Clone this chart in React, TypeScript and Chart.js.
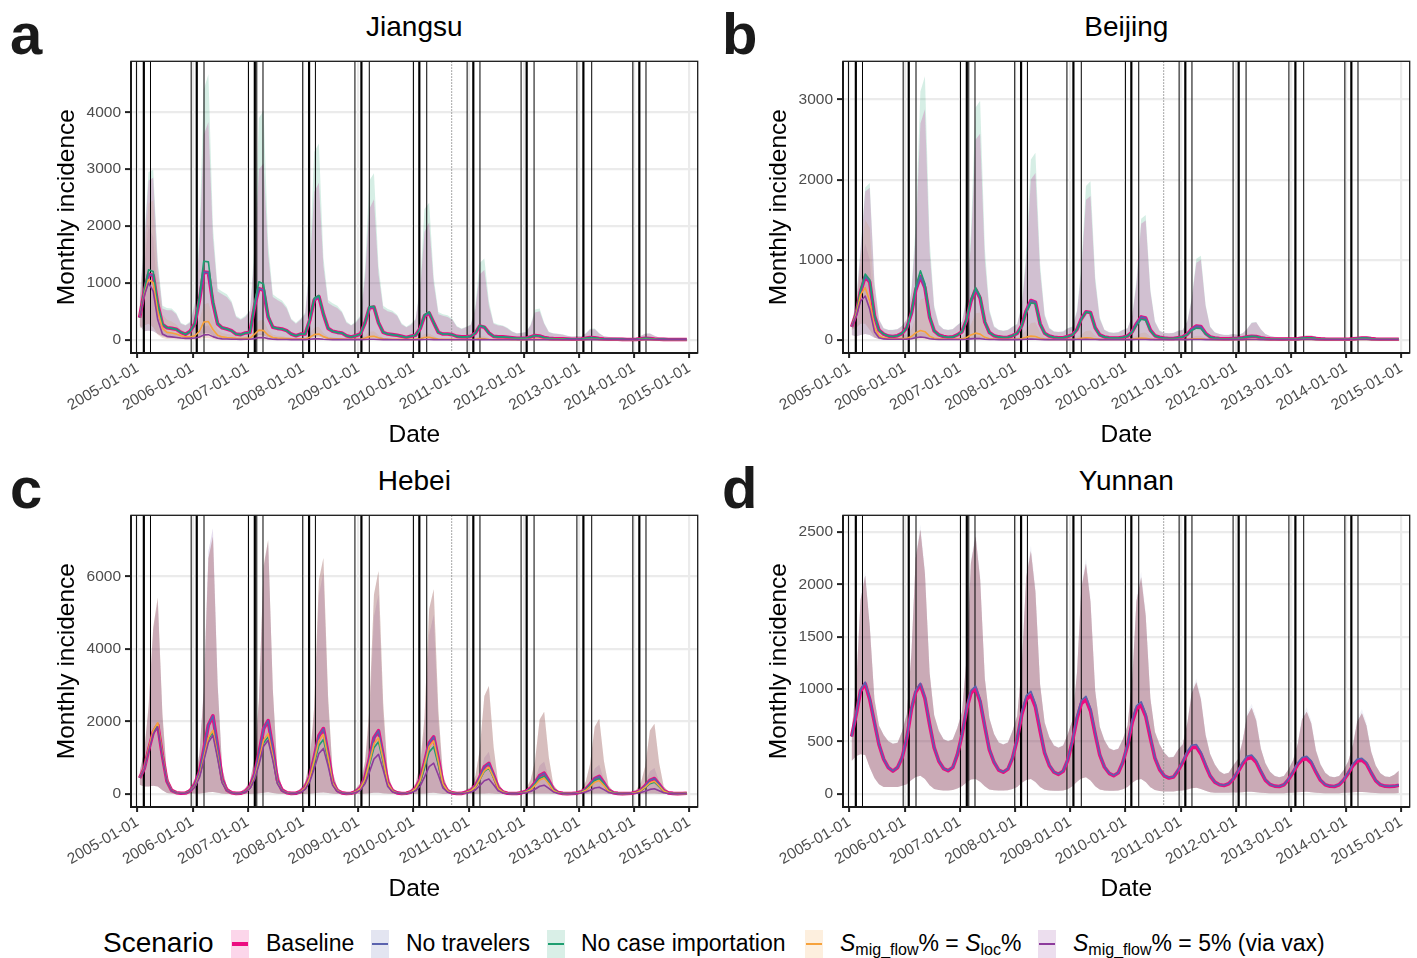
import React, { useEffect, useRef } from 'react';
import { Chart, registerables } from 'chart.js';

Chart.register(...registerables);

const FONT = '"Liberation Sans", Arial, Helvetica, sans-serif';

// ---------- axis / date data ----------
const START_YEAR = 2005;
const N_MONTHS = 120;
const X_TICK_LABELS = ['2005-01-01', '2006-01-01', '2007-01-01', '2008-01-01', '2009-01-01', '2010-01-01', '2011-01-01', '2012-01-01', '2013-01-01', '2014-01-01', '2015-01-01'];
const X_MIN_DATE = '2004-11-19';
const X_MAX_DATE = '2015-02-25';

const THIN_LINES = ['2004-12-25', '2005-03-28', '2005-12-22', '2006-03-17', '2007-01-05', '2007-03-01', '2007-04-11', '2007-12-30', '2008-03-23', '2008-12-10', '2009-03-15', '2010-01-01', '2010-03-30', '2010-12-22', '2011-03-17', '2011-12-14', '2012-03-09', '2012-12-18', '2013-03-26', '2013-12-23', '2014-03-20'];
const THICK_LINES = ['2005-02-12', '2006-01-28', '2007-02-16', '2008-02-10', '2009-01-22', '2010-02-09', '2011-02-01', '2012-01-20', '2013-01-30', '2014-02-04'];
const DOTTED_LINE = '2010-09-11';

const SCENARIOS = ['Baseline', 'No travelers', 'No case importation', 'S_mig_flow% = S_loc%', 'S_mig_flow% = 5% (via vax)'];
const COLORS = ['#EC0C80', '#5A62AE', '#1E9E70', '#F6A23C', '#8D3B9C'];
const FILL_ALPHAS = [0.16, 0.08, 0.18, 0.17, 0.12];

// ---------- Panel a: Jiangsu ----------
const aBase = [
  390, 850, 1150, 1130, 620, 270, 210, 200, 185, 130, 95, 150,
  280, 700, 1190, 1180, 650, 280, 210, 190, 160, 100, 90, 120,
  130, 600, 900, 870, 400, 220, 200, 190, 160, 100, 70, 100,
  100, 350, 700, 760, 450, 200, 150, 130, 120, 70, 50, 70,
  100, 300, 560, 575, 300, 130, 100, 90, 80, 60, 40, 60,
  80, 200, 420, 470, 300, 130, 100, 100, 90, 60, 50, 50,
  60, 120, 240, 220, 120, 60, 50, 50, 45, 35, 25, 25,
  25, 50, 75, 65, 40, 25, 20, 18, 15, 12, 10, 10,
  12, 25, 38, 35, 22, 12, 10, 10, 8, 6, 5, 5,
  6, 15, 25, 22, 12, 8, 6, 5, 5, 4, 4, 4,
];
const aNoImp = [
  390, 870, 1230, 1200, 640, 280, 215, 200, 185, 130, 95, 150,
  280, 760, 1380, 1370, 690, 290, 210, 190, 160, 100, 90, 120,
  130, 650, 1020, 980, 430, 220, 200, 190, 160, 100, 70, 100,
  100, 360, 730, 780, 460, 200, 150, 130, 120, 70, 50, 70,
  100, 300, 580, 590, 300, 130, 100, 90, 80, 60, 40, 60,
  80, 200, 440, 490, 300, 130, 100, 100, 90, 60, 50, 50,
  60, 120, 250, 230, 120, 60, 50, 50, 45, 35, 25, 25,
  25, 50, 75, 65, 40, 25, 20, 18, 15, 12, 10, 10,
  12, 25, 38, 35, 22, 12, 10, 10, 8, 6, 5, 5,
  6, 15, 25, 22, 12, 8, 6, 5, 5, 4, 4, 4,
];
const aSloc = [
  390, 800, 1060, 1000, 500, 200, 130, 120, 100, 70, 50, 50,
  70, 150, 310, 320, 180, 80, 50, 40, 35, 25, 20, 25,
  30, 100, 170, 160, 80, 40, 30, 25, 20, 15, 12, 15,
  15, 45, 90, 100, 55, 25, 18, 15, 12, 10, 8, 10,
  10, 30, 55, 60, 35, 15, 10, 10, 8, 6, 5, 6,
  6, 18, 40, 45, 28, 12, 8, 8, 7, 5, 4, 5,
  5, 10, 20, 18, 10, 5, 4, 4, 4, 3, 2, 2,
  2, 5, 8, 7, 4, 2, 2, 2, 2, 1, 1, 1,
  1, 3, 4, 4, 2, 1, 1, 1, 1, 1, 1, 1,
  1, 2, 3, 3, 2, 1, 1, 1, 1, 1, 1, 1,
];
const aVax = [
  390, 780, 1000, 850, 350, 100, 60, 50, 40, 30, 25, 25,
  30, 50, 85, 90, 55, 25, 15, 12, 10, 8, 6, 8,
  8, 20, 40, 38, 20, 10, 6, 5, 4, 3, 3, 3,
  3, 8, 15, 15, 8, 4, 3, 2, 2, 2, 2, 2,
  2, 4, 8, 8, 4, 2, 2, 1, 1, 1, 1, 1,
  1, 3, 5, 5, 3, 1, 1, 1, 1, 1, 1, 1,
  1, 1, 2, 2, 1, 1, 1, 1, 1, 1, 1, 1,
  1, 1, 1, 1, 1, 1, 1, 1, 1, 1, 1, 1,
  1, 1, 1, 1, 1, 1, 1, 1, 1, 1, 1, 1,
  1, 1, 1, 1, 1, 1, 1, 1, 1, 1, 1, 1,
];
const aHi = [
  700, 1700, 2800, 2850, 1300, 550, 520, 520, 450, 280, 250, 300,
  600, 1700, 3600, 3830, 1800, 850, 800, 750, 650, 400, 350, 400,
  500, 1500, 3000, 3100, 1500, 750, 700, 650, 550, 350, 280, 350,
  450, 1300, 2600, 2760, 1300, 650, 600, 560, 480, 300, 250, 300,
  400, 1100, 2300, 2470, 1150, 550, 500, 480, 420, 270, 220, 260,
  350, 900, 1900, 2060, 1000, 450, 420, 400, 350, 230, 190, 220,
  260, 550, 1150, 1225, 600, 280, 250, 240, 200, 140, 110, 120,
  130, 250, 480, 500, 280, 130, 110, 100, 90, 70, 55, 60,
  60, 110, 180, 185, 110, 60, 50, 45, 40, 35, 30, 30,
  35, 70, 105, 110, 70, 40, 35, 30, 28, 25, 22, 22,
];
const aHiNoImp = [
  720, 1800, 2950, 2990, 1400, 600, 560, 550, 470, 300, 260, 320,
  650, 1900, 4400, 4670, 2000, 900, 850, 800, 680, 420, 370, 420,
  520, 1700, 3900, 4030, 1700, 800, 740, 690, 580, 370, 300, 370,
  480, 1450, 3300, 3450, 1450, 700, 640, 600, 500, 320, 260, 320,
  420, 1250, 2800, 2930, 1300, 600, 540, 510, 440, 290, 230, 280,
  370, 1000, 2300, 2410, 1100, 490, 450, 430, 370, 240, 200, 230,
  270, 620, 1350, 1430, 680, 300, 270, 250, 210, 150, 115, 125,
  135, 270, 530, 550, 300, 140, 115, 105, 95, 72, 56, 62,
  62, 115, 195, 200, 115, 62, 52, 46, 41, 36, 30, 30,
  36, 72, 108, 112, 72, 41, 36, 31, 28, 25, 22, 22,
];
const aLo = [
  250, 150, 160, 150, 100, 60, 40, 35, 30, 20, 15, 18,
  25, 60, 120, 120, 70, 30, 20, 18, 15, 10, 9, 12,
  12, 40, 80, 75, 40, 20, 18, 15, 12, 8, 6, 8,
  8, 25, 50, 55, 30, 15, 10, 9, 8, 6, 4, 5,
  6, 18, 35, 35, 18, 8, 6, 5, 5, 4, 3, 3,
  3, 10, 25, 25, 15, 6, 5, 5, 4, 3, 2, 2,
  2, 5, 10, 10, 5, 2, 2, 2, 2, 1, 1, 1,
  1, 2, 3, 3, 2, 1, 1, 1, 1, 0, 0, 0,
  0, 0, 0, 0, 0, 0, 0, 0, 0, 0, 0, 0,
  0, 0, 0, 0, 0, 0, 0, 0, 0, 0, 0, 0,
];
const aHiSloc = [
  600, 1500, 2400, 2450, 1100, 450, 350, 320, 270, 180, 140, 150,
  180, 350, 620, 650, 380, 180, 120, 100, 90, 65, 55, 60,
  70, 200, 340, 350, 170, 90, 70, 60, 50, 38, 30, 35,
  35, 110, 210, 230, 120, 55, 42, 36, 30, 24, 20, 24,
  24, 70, 140, 150, 80, 36, 26, 24, 20, 15, 12, 14,
  15, 45, 100, 110, 65, 28, 20, 19, 17, 12, 10, 11,
  11, 25, 55, 60, 28, 14, 10, 10, 9, 7, 5, 5,
  5, 12, 24, 25, 13, 6, 5, 5, 4, 3, 3, 3,
  3, 6, 10, 10, 6, 3, 3, 3, 2, 2, 2, 2,
  2, 4, 8, 8, 5, 2, 2, 2, 2, 2, 2, 2,
];
const aHiVax = [
  550, 1300, 2000, 1800, 700, 250, 150, 120, 100, 70, 55, 55,
  60, 120, 230, 250, 140, 60, 40, 30, 25, 20, 15, 18,
  20, 55, 110, 115, 55, 25, 16, 13, 11, 8, 7, 8,
  8, 22, 45, 45, 22, 10, 8, 6, 5, 5, 4, 4,
  5, 12, 24, 24, 12, 6, 5, 3, 3, 3, 3, 3,
  3, 8, 15, 15, 8, 3, 3, 3, 3, 3, 3, 3,
  3, 3, 5, 5, 3, 3, 3, 3, 3, 3, 3, 3,
  2, 2, 3, 3, 2, 2, 2, 2, 2, 2, 2, 2,
  2, 2, 2, 2, 2, 2, 2, 2, 2, 2, 2, 2,
  2, 2, 2, 2, 2, 2, 2, 2, 2, 2, 2, 2,
];
const aLoSmall = [
  200, 250, 280, 220, 90, 30, 15, 12, 10, 8, 6, 6,
  6, 12, 25, 25, 14, 6, 4, 3, 3, 2, 2, 2,
  2, 5, 10, 10, 5, 2, 2, 1, 1, 1, 1, 1,
  0, 0, 0, 0, 0, 0, 0, 0, 0, 0, 0, 0,
  0, 0, 0, 0, 0, 0, 0, 0, 0, 0, 0, 0,
  0, 0, 0, 0, 0, 0, 0, 0, 0, 0, 0, 0,
  0, 0, 0, 0, 0, 0, 0, 0, 0, 0, 0, 0,
  0, 0, 0, 0, 0, 0, 0, 0, 0, 0, 0, 0,
  0, 0, 0, 0, 0, 0, 0, 0, 0, 0, 0, 0,
  0, 0, 0, 0, 0, 0, 0, 0, 0, 0, 0, 0,
];

// ---------- Panel b: Beijing ----------
const bBase = [
  160, 330, 600, 790, 720, 300, 120, 70, 45, 40, 50, 80,
  150, 330, 620, 790, 650, 280, 110, 60, 40, 30, 35, 60,
  100, 250, 480, 630, 520, 220, 90, 50, 35, 28, 30, 50,
  80, 180, 360, 490, 470, 200, 80, 45, 30, 25, 25, 40,
  60, 130, 260, 350, 340, 150, 60, 35, 25, 20, 20, 30,
  45, 100, 200, 285, 270, 120, 50, 30, 20, 15, 15, 25,
  35, 70, 130, 170, 165, 80, 35, 20, 15, 12, 12, 15,
  18, 25, 35, 42, 40, 25, 15, 10, 8, 7, 7, 8,
  8, 12, 18, 25, 25, 16, 10, 7, 6, 5, 5, 6,
  6, 10, 16, 22, 22, 14, 8, 6, 5, 5, 5, 5,
];
const bNoImp = [
  160, 340, 620, 820, 750, 310, 120, 70, 45, 40, 50, 80,
  150, 350, 660, 860, 700, 300, 110, 60, 40, 30, 35, 60,
  100, 260, 500, 650, 540, 230, 90, 50, 35, 28, 30, 50,
  80, 175, 345, 460, 450, 195, 80, 45, 30, 25, 25, 40,
  60, 125, 250, 345, 335, 145, 60, 35, 25, 20, 20, 30,
  45, 95, 180, 255, 245, 110, 48, 30, 20, 15, 15, 25,
  35, 65, 115, 145, 140, 70, 32, 20, 15, 12, 12, 15,
  18, 25, 35, 42, 40, 25, 15, 10, 8, 7, 7, 8,
  8, 12, 18, 25, 25, 16, 10, 7, 6, 5, 5, 6,
  6, 10, 16, 22, 22, 14, 8, 6, 5, 5, 5, 5,
];
const bSloc = [
  160, 320, 560, 650, 480, 150, 50, 25, 15, 12, 12, 15,
  18, 40, 85, 115, 100, 45, 18, 10, 7, 6, 6, 8,
  10, 28, 60, 82, 70, 30, 12, 7, 5, 4, 4, 6,
  6, 15, 32, 45, 40, 18, 7, 4, 3, 3, 3, 4,
  4, 9, 18, 25, 22, 10, 4, 3, 2, 2, 2, 3,
  3, 7, 14, 20, 18, 8, 3, 2, 2, 2, 2, 2,
  2, 4, 8, 12, 10, 5, 2, 1, 1, 1, 1, 1,
  1, 1, 2, 3, 3, 2, 1, 1, 1, 1, 1, 1,
  1, 1, 2, 2, 2, 1, 1, 1, 1, 1, 1, 1,
  1, 1, 2, 2, 2, 1, 1, 1, 1, 1, 1, 1,
];
const bVax = [
  160, 300, 480, 545, 380, 100, 25, 10, 6, 5, 5, 6,
  7, 12, 25, 33, 28, 12, 5, 3, 2, 2, 2, 3,
  3, 6, 11, 15, 13, 6, 3, 2, 1, 1, 1, 1,
  1, 3, 5, 7, 6, 3, 1, 1, 1, 1, 1, 1,
  1, 2, 3, 4, 3, 2, 1, 1, 1, 1, 1, 1,
  1, 1, 2, 2, 2, 1, 1, 1, 1, 1, 1, 1,
  1, 1, 2, 2, 2, 1, 1, 1, 1, 1, 1, 1,
  1, 1, 2, 2, 2, 1, 1, 1, 1, 1, 1, 1,
  1, 1, 2, 2, 2, 1, 1, 1, 1, 1, 1, 1,
  1, 1, 2, 2, 2, 1, 1, 1, 1, 1, 1, 1,
];
const bHi = [
  180, 500, 1100, 1850, 1898, 700, 250, 140, 120, 120, 130, 170,
  250, 600, 1300, 2700, 2880, 1100, 400, 180, 130, 120, 130, 180,
  220, 500, 1200, 2500, 2574, 1000, 350, 160, 120, 110, 120, 160,
  190, 420, 1000, 2000, 2082, 850, 300, 140, 100, 95, 100, 140,
  160, 350, 850, 1750, 1795, 720, 260, 120, 90, 85, 90, 120,
  140, 300, 700, 1450, 1488, 600, 220, 110, 85, 80, 85, 110,
  120, 230, 500, 960, 996, 420, 160, 90, 70, 60, 60, 70,
  60, 80, 130, 210, 217, 130, 70, 45, 35, 30, 30, 35,
  30, 35, 45, 53, 53, 40, 30, 25, 22, 20, 20, 22,
  22, 28, 35, 41, 41, 32, 25, 22, 20, 18, 18, 18,
];
const bHiNoImp = [
  185, 520, 1150, 1900, 1959, 730, 260, 145, 125, 125, 135, 175,
  260, 650, 1450, 3100, 3291, 1250, 430, 190, 135, 125, 135, 185,
  230, 550, 1350, 2900, 2984, 1150, 380, 170, 125, 115, 125, 165,
  200, 450, 1100, 2250, 2336, 950, 320, 150, 105, 100, 105, 145,
  165, 370, 930, 1920, 1980, 790, 280, 125, 95, 90, 95, 125,
  145, 310, 740, 1510, 1557, 630, 230, 115, 88, 82, 88, 115,
  125, 240, 520, 1010, 1050, 440, 165, 92, 72, 62, 62, 72,
  62, 82, 135, 215, 222, 132, 72, 46, 36, 31, 31, 36,
  30, 35, 45, 53, 53, 40, 30, 25, 22, 20, 20, 22,
  22, 28, 35, 41, 41, 32, 25, 22, 20, 18, 18, 18,
];
const bLo = [
  60, 40, 60, 70, 60, 25, 10, 5, 3, 3, 3, 5,
  5, 10, 20, 25, 20, 8, 3, 2, 1, 1, 1, 2,
  2, 6, 12, 15, 12, 5, 2, 1, 1, 1, 1, 1,
  1, 4, 8, 10, 8, 3, 1, 1, 0, 0, 0, 1,
  1, 2, 5, 6, 5, 2, 1, 0, 0, 0, 0, 0,
  0, 1, 3, 4, 3, 1, 0, 0, 0, 0, 0, 0,
  0, 0, 0, 0, 0, 0, 0, 0, 0, 0, 0, 0,
  0, 0, 0, 0, 0, 0, 0, 0, 0, 0, 0, 0,
  0, 0, 0, 0, 0, 0, 0, 0, 0, 0, 0, 0,
  0, 0, 0, 0, 0, 0, 0, 0, 0, 0, 0, 0,
];
const bHiSloc = [
  170, 450, 1000, 1500, 1400, 500, 150, 70, 50, 45, 45, 55,
  65, 130, 280, 500, 525, 220, 80, 40, 30, 25, 25, 35,
  40, 90, 190, 330, 340, 140, 55, 30, 22, 18, 18, 25,
  28, 60, 120, 210, 217, 90, 35, 20, 15, 13, 13, 18,
  18, 35, 65, 110, 115, 50, 20, 12, 10, 8, 8, 12,
  14, 28, 50, 85, 90, 40, 15, 10, 8, 7, 7, 9,
  9, 16, 28, 48, 50, 22, 10, 7, 5, 5, 5, 6,
  5, 7, 10, 14, 15, 9, 6, 4, 4, 3, 3, 4,
  3, 4, 6, 8, 8, 6, 4, 3, 3, 3, 3, 3,
  3, 4, 6, 7, 7, 5, 4, 3, 3, 3, 3, 3,
];
const bHiVax = [
  165, 420, 900, 1200, 1000, 300, 70, 25, 15, 12, 12, 14,
  15, 30, 60, 90, 85, 35, 12, 7, 5, 5, 5, 7,
  8, 15, 30, 42, 40, 18, 8, 5, 4, 3, 3, 4,
  5, 8, 15, 20, 19, 9, 4, 3, 2, 2, 2, 3,
  3, 5, 9, 12, 11, 6, 3, 2, 2, 2, 2, 2,
  2, 4, 7, 9, 8, 4, 2, 2, 2, 2, 2, 2,
  2, 3, 5, 6, 6, 3, 2, 2, 2, 2, 2, 2,
  2, 2, 3, 3, 3, 2, 2, 2, 2, 2, 2, 2,
  2, 2, 3, 3, 3, 2, 2, 2, 2, 2, 2, 2,
  2, 2, 3, 3, 3, 2, 2, 2, 2, 2, 2, 2,
];
const bLoSmall = [
  120, 150, 200, 200, 120, 30, 6, 2, 1, 1, 1, 1,
  1, 2, 4, 5, 4, 2, 1, 0, 0, 0, 0, 0,
  0, 1, 2, 3, 2, 1, 0, 0, 0, 0, 0, 0,
  0, 0, 0, 0, 0, 0, 0, 0, 0, 0, 0, 0,
  0, 0, 0, 0, 0, 0, 0, 0, 0, 0, 0, 0,
  0, 0, 0, 0, 0, 0, 0, 0, 0, 0, 0, 0,
  0, 0, 0, 0, 0, 0, 0, 0, 0, 0, 0, 0,
  0, 0, 0, 0, 0, 0, 0, 0, 0, 0, 0, 0,
  0, 0, 0, 0, 0, 0, 0, 0, 0, 0, 0, 0,
  0, 0, 0, 0, 0, 0, 0, 0, 0, 0, 0, 0,
];

// ---------- Panel c: Hebei ----------
const cBase = [
  435, 700, 1200, 1700, 1900, 1050, 350, 90, 30, 12, 20, 80,
  250, 600, 1200, 1900, 2150, 1300, 400, 100, 30, 10, 15, 60,
  200, 550, 1100, 1800, 2020, 1250, 380, 100, 30, 10, 15, 60,
  180, 480, 1000, 1600, 1800, 1100, 330, 90, 25, 8, 12, 50,
  160, 450, 950, 1550, 1740, 1050, 320, 85, 25, 8, 12, 50,
  150, 400, 850, 1400, 1570, 950, 290, 80, 25, 8, 10, 40,
  90, 220, 450, 740, 840, 520, 170, 50, 15, 5, 8, 25,
  60, 150, 300, 500, 570, 360, 120, 35, 10, 4, 6, 18,
  50, 125, 260, 420, 480, 300, 100, 30, 10, 4, 6, 15,
  40, 110, 220, 370, 420, 260, 90, 25, 10, 4, 5, 12,
];
const cNoImp = [
  435, 700, 1200, 1700, 1900, 1050, 350, 90, 30, 12, 20, 75,
  200, 490, 960, 1510, 1705, 1020, 320, 85, 25, 8, 12, 50,
  160, 425, 850, 1400, 1570, 980, 300, 78, 24, 8, 12, 48,
  150, 400, 830, 1330, 1500, 920, 280, 75, 21, 7, 10, 42,
  130, 370, 780, 1270, 1433, 870, 265, 70, 21, 7, 10, 40,
  125, 330, 700, 1150, 1297, 790, 240, 66, 20, 7, 8, 33,
  75, 185, 380, 620, 707, 440, 145, 42, 13, 4, 7, 20,
  50, 125, 255, 420, 481, 300, 100, 30, 9, 3, 5, 15,
  42, 110, 225, 365, 417, 260, 88, 26, 9, 3, 5, 13,
  30, 84, 168, 280, 317, 197, 68, 19, 8, 3, 4, 9,
];
const cSloc = [
  435, 710, 1230, 1750, 1960, 1080, 360, 90, 30, 12, 20, 70,
  200, 500, 980, 1550, 1750, 1050, 330, 85, 25, 8, 12, 50,
  170, 450, 900, 1480, 1660, 1030, 310, 80, 25, 8, 12, 50,
  165, 440, 910, 1460, 1640, 1000, 300, 80, 22, 7, 11, 45,
  145, 400, 850, 1380, 1550, 940, 290, 75, 22, 7, 11, 45,
  140, 370, 790, 1300, 1460, 880, 270, 75, 22, 7, 9, 35,
  80, 190, 390, 640, 726, 450, 150, 45, 13, 5, 7, 20,
  45, 115, 230, 380, 435, 275, 90, 27, 8, 3, 5, 14,
  38, 95, 195, 320, 363, 225, 75, 22, 8, 3, 4, 11,
  34, 90, 180, 305, 345, 215, 75, 20, 8, 3, 4, 10,
];
const cVax = [
  435, 690, 1170, 1650, 1850, 1020, 340, 85, 28, 10, 18, 65,
  180, 450, 900, 1420, 1614, 970, 300, 80, 23, 8, 11, 45,
  150, 400, 800, 1310, 1478, 920, 280, 75, 22, 7, 10, 40,
  125, 335, 700, 1110, 1252, 770, 235, 62, 18, 6, 9, 35,
  100, 280, 590, 960, 1088, 660, 200, 55, 16, 5, 8, 30,
  80, 215, 460, 750, 844, 510, 160, 45, 14, 5, 6, 22,
  45, 105, 220, 360, 408, 250, 85, 25, 8, 3, 4, 12,
  25, 60, 125, 208, 236, 150, 50, 15, 5, 2, 3, 8,
  20, 48, 98, 160, 181, 113, 38, 12, 4, 2, 3, 6,
  14, 36, 72, 120, 136, 85, 28, 9, 3, 2, 2, 5,
];
const cHiBase = [
  600, 1200, 2400, 4600, 5420, 2200, 500, 150, 50, 30, 60, 150,
  400, 1100, 2800, 6500, 7100, 3000, 700, 200, 60, 30, 60, 150,
  350, 1000, 2600, 6300, 7010, 2900, 650, 180, 55, 28, 55, 140,
  320, 950, 2400, 5900, 6510, 2700, 600, 170, 50, 25, 50, 130,
  300, 900, 2300, 5500, 6150, 2500, 560, 160, 48, 24, 48, 120,
  280, 850, 2100, 5100, 5650, 2300, 520, 150, 45, 22, 45, 110,
  180, 500, 1200, 2700, 2975, 1300, 320, 100, 30, 15, 30, 70,
  130, 380, 900, 2050, 2268, 1000, 250, 80, 25, 12, 25, 55,
  120, 340, 820, 1850, 2068, 900, 230, 70, 22, 11, 22, 50,
  110, 320, 760, 1750, 1932, 850, 210, 65, 20, 10, 20, 45,
];
const cHiTrav = [
  580, 1150, 2300, 4500, 5300, 2100, 480, 140, 50, 30, 60, 150,
  420, 1150, 2900, 6700, 7330, 3100, 720, 200, 60, 30, 60, 150,
  340, 980, 2500, 6200, 6950, 2850, 640, 175, 55, 28, 55, 135,
  300, 880, 2200, 5500, 6100, 2500, 560, 160, 48, 24, 48, 120,
  270, 800, 2000, 4900, 5500, 2200, 500, 145, 44, 22, 44, 105,
  240, 700, 1750, 4400, 4950, 2000, 450, 130, 40, 20, 40, 90,
  90, 240, 520, 1000, 1160, 550, 150, 50, 15, 8, 15, 35,
  70, 180, 400, 780, 890, 420, 115, 40, 12, 6, 12, 28,
  60, 160, 360, 700, 800, 380, 105, 35, 11, 6, 11, 25,
  55, 145, 320, 620, 710, 340, 95, 30, 10, 5, 10, 22,
];
const cLo = [
  250, 200, 200, 220, 200, 100, 20, 5, 2, 1, 2, 5,
  5, 10, 20, 40, 50, 25, 5, 2, 1, 0, 1, 2,
  3, 8, 15, 30, 40, 20, 5, 1, 0, 0, 0, 1,
  3, 8, 15, 28, 35, 18, 4, 1, 0, 0, 0, 1,
  2, 6, 12, 25, 30, 15, 4, 1, 0, 0, 0, 1,
  2, 5, 10, 20, 25, 12, 3, 1, 0, 0, 0, 1,
  1, 3, 6, 10, 12, 6, 2, 0, 0, 0, 0, 0,
  1, 2, 4, 6, 8, 4, 1, 0, 0, 0, 0, 0,
  1, 2, 4, 6, 7, 4, 1, 0, 0, 0, 0, 0,
  1, 2, 3, 5, 6, 3, 1, 0, 0, 0, 0, 0,
];

// ---------- Panel d: Yunnan ----------
const dBase = [
  548, 760, 980, 1050, 900, 680, 470, 330, 250, 215, 250, 345,
  530, 810, 970, 1040, 910, 660, 440, 310, 240, 220, 250, 370,
  560, 810, 960, 1005, 880, 640, 420, 300, 225, 205, 235, 340,
  520, 760, 900, 940, 830, 600, 390, 270, 205, 185, 215, 320,
  500, 720, 860, 900, 790, 570, 370, 255, 195, 172, 200, 300,
  460, 680, 810, 845, 740, 530, 340, 230, 170, 150, 160, 220,
  300, 390, 440, 445, 380, 270, 170, 110, 85, 78, 95, 140,
  210, 285, 335, 345, 300, 210, 130, 88, 72, 69, 85, 135,
  205, 280, 325, 335, 295, 205, 128, 86, 72, 69, 85, 130,
  195, 270, 312, 320, 285, 200, 125, 85, 72, 70, 72, 80,
];
const dTrav = [
  548, 770, 995, 1065, 915, 690, 475, 333, 252, 217, 252, 348,
  535, 820, 985, 1055, 925, 670, 445, 313, 242, 222, 253, 375,
  565, 825, 985, 1028, 900, 655, 428, 305, 228, 208, 238, 345,
  528, 780, 935, 978, 860, 620, 400, 276, 208, 188, 218, 325,
  508, 745, 890, 930, 815, 588, 380, 260, 198, 175, 203, 305,
  470, 705, 840, 877, 765, 548, 350, 236, 173, 153, 163, 226,
  310, 405, 462, 470, 400, 283, 176, 113, 87, 80, 97, 145,
  218, 300, 358, 370, 320, 222, 136, 91, 74, 71, 88, 140,
  213, 295, 345, 357, 313, 216, 133, 89, 74, 71, 88, 135,
  202, 284, 330, 338, 300, 209, 129, 87, 74, 72, 74, 82,
];
const dHi = [
  595, 1050, 1850, 2083, 1600, 900, 650, 560, 500, 476, 486, 595,
  760, 1350, 2250, 2522, 2100, 1150, 750, 600, 520, 501, 517, 627,
  780, 1300, 2200, 2459, 2050, 1100, 720, 570, 490, 470, 490, 600,
  740, 1230, 2070, 2318, 1930, 1040, 680, 540, 460, 439, 460, 565,
  700, 1160, 1960, 2199, 1830, 980, 640, 510, 435, 414, 430, 520,
  650, 1090, 1840, 2068, 1700, 910, 590, 470, 390, 345, 350, 420,
  470, 680, 960, 1065, 900, 560, 380, 280, 215, 188, 200, 270,
  330, 500, 740, 821, 700, 430, 290, 210, 170, 157, 170, 230,
  320, 480, 710, 783, 670, 410, 280, 200, 165, 157, 170, 225,
  310, 470, 690, 768, 650, 400, 270, 195, 165, 160, 180, 219,
];
const dHiTrav = [
  600, 1070, 1890, 2120, 1630, 920, 660, 565, 505, 480, 490, 600,
  770, 1380, 2290, 2570, 2140, 1170, 760, 605, 525, 505, 522, 632,
  790, 1330, 2240, 2510, 2090, 1120, 730, 575, 495, 475, 495, 605,
  750, 1260, 2110, 2370, 1970, 1060, 690, 545, 465, 444, 465, 570,
  710, 1190, 2000, 2250, 1870, 1000, 650, 515, 440, 419, 435, 525,
  660, 1120, 1880, 2120, 1740, 930, 600, 475, 395, 350, 355, 425,
  480, 700, 990, 1100, 930, 575, 385, 285, 218, 190, 203, 275,
  335, 515, 770, 860, 730, 445, 295, 213, 172, 159, 172, 235,
  325, 495, 740, 825, 700, 425, 285, 203, 167, 159, 172, 230,
  315, 485, 720, 810, 680, 415, 275, 198, 167, 162, 182, 225,
];
const dLo = [
  313, 360, 376, 370, 250, 150, 90, 65, 63, 63, 65, 75,
  90, 130, 160, 172, 140, 80, 45, 35, 31, 31, 35, 50,
  70, 110, 135, 141, 115, 70, 40, 32, 30, 30, 33, 45,
  65, 105, 132, 141, 112, 65, 38, 30, 28, 28, 30, 42,
  70, 115, 145, 157, 125, 70, 40, 30, 28, 28, 30, 42,
  65, 105, 130, 141, 112, 62, 35, 25, 22, 20, 20, 28,
  30, 40, 52, 56, 45, 28, 15, 10, 8, 8, 8, 12,
  12, 15, 18, 18, 15, 10, 6, 5, 5, 5, 5, 8,
  10, 14, 17, 18, 15, 10, 6, 5, 5, 5, 5, 8,
  10, 14, 16, 17, 15, 10, 6, 5, 5, 5, 5, 6,
];

// ---------- panel definitions ----------
const PANELS = [
  {
    letter: 'a', title: 'Jiangsu', left: 40, top: 48, width: 672, yAxisW: 91, underPink: false,
    yMin: -233, yMax: 4897, yTicks: [0, 1000, 2000, 3000, 4000],
    series: [
      { mean: aBase, lo: aLo, hi: aHi },
      { mean: aBase, lo: aLo, hi: aHi },
      { mean: aNoImp, lo: aLo, hi: aHiNoImp },
      { mean: aSloc, lo: aLoSmall, hi: aHiSloc },
      { mean: aVax, lo: aLoSmall, hi: aHiVax },
    ],
  },
  {
    letter: 'b', title: 'Beijing', left: 752, top: 48, width: 665, yAxisW: 91, underPink: false,
    yMin: -166, yMax: 3478, yTicks: [0, 1000, 2000, 3000],
    series: [
      { mean: bBase, lo: bLo, hi: bHi },
      { mean: bBase, lo: bLo, hi: bHi },
      { mean: bNoImp, lo: bLo, hi: bHiNoImp },
      { mean: bSloc, lo: bLoSmall, hi: bHiSloc },
      { mean: bVax, lo: bLoSmall, hi: bHiVax },
    ],
  },
  {
    letter: 'c', title: 'Hebei', left: 40, top: 502, width: 672, yAxisW: 91, underPink: false,
    yMin: -366, yMax: 7690, yTicks: [0, 2000, 4000, 6000],
    series: [
      { mean: cBase, lo: cLo, hi: cHiBase },
      { mean: cBase, lo: cLo, hi: cHiTrav },
      { mean: cNoImp, lo: cLo, hi: cHiBase },
      { mean: cSloc, lo: cLo, hi: cHiBase },
      { mean: cVax, lo: cLo, hi: cHiTrav },
    ],
  },
  {
    letter: 'd', title: 'Yunnan', left: 752, top: 502, width: 665, yAxisW: 91, underPink: true,
    yMin: -127, yMax: 2659, yTicks: [0, 500, 1000, 1500, 2000, 2500],
    series: [
      { mean: dBase, lo: dLo, hi: dHi },
      { mean: dTrav, lo: dLo, hi: dHiTrav },
      { mean: dBase, lo: dLo, hi: dHi },
      { mean: dBase, lo: dLo, hi: dHi },
      { mean: dBase, lo: dLo, hi: dHi },
    ],
  },
];

// ---------- helpers ----------
function toYear(s: string): number {
  const [y, m, d] = s.split('-').map(Number);
  const start = Date.UTC(y, 0, 1);
  const len = Date.UTC(y + 1, 0, 1) - start;
  return y + (Date.UTC(y, m - 1, d) - start) / len;
}
function monthDate(i: number): string {
  const y = START_YEAR + Math.floor(i / 12);
  const m = (i % 12) + 1;
  return `${y}-${m < 10 ? '0' + m : m}-15`;
}
function rgba(hex: string, a: number): string {
  const r = parseInt(hex.slice(1, 3), 16);
  const g = parseInt(hex.slice(3, 5), 16);
  const b = parseInt(hex.slice(5, 7), 16);
  return `rgba(${r},${g},${b},${a})`;
}
function pts(arr: number[]) {
  const out = [];
  for (let i = 0; i < N_MONTHS; i++) out.push({ x: toYear(monthDate(i)), y: arr[i] });
  return out;
}

const CANVAS_H = 414;
const PLOT_TOP_PAD = 8.7;
const PLOT_H = 296.3;
const TICK_FONT = 15.5;
const AXIS_TITLE_FONT = 24.5;

const overlayPlugin = {
  id: 'overlay',
  beforeDatasetsDraw(chart: any) {
    chart.$vlDone = false;
  },
  beforeDatasetDraw(chart: any, args: any) {
    const ds = chart.data.datasets[args.index];
    if (!ds.isLine || chart.$vlDone) return;
    chart.$vlDone = true;
    const { ctx, chartArea: ca } = chart;
    const x = chart.scales.x;
    ctx.save();
    ctx.beginPath();
    ctx.rect(ca.left, ca.top, ca.right - ca.left, ca.bottom - ca.top);
    ctx.clip();
    ctx.strokeStyle = '#000000';
    const vline = (d: string, w: number) => {
      const px = x.getPixelForValue(toYear(d));
      ctx.lineWidth = w;
      ctx.beginPath();
      ctx.moveTo(px, ca.top);
      ctx.lineTo(px, ca.bottom);
      ctx.stroke();
    };
    THIN_LINES.forEach((d) => vline(d, 1));
    THICK_LINES.forEach((d) => vline(d, 2.2));
    ctx.strokeStyle = '#8a8a8a';
    ctx.setLineDash([1.5, 1.5]);
    vline(DOTTED_LINE, 1);
    ctx.restore();
  },
  afterDraw(chart: any) {
    const { ctx, chartArea: ca } = chart;
    ctx.save();
    ctx.strokeStyle = '#1a1a1a';
    ctx.lineWidth = 1.3;
    ctx.strokeRect(ca.left, ca.top, ca.right - ca.left, ca.bottom - ca.top);
    ctx.lineWidth = 2;
    ctx.beginPath();
    ctx.moveTo(ca.left, ca.top);
    ctx.lineTo(ca.left, ca.bottom);
    ctx.lineTo(ca.right, ca.bottom);
    ctx.stroke();
    ctx.restore();
  },
};

function buildConfig(p: any) {
  const datasets: any[] = [];
  p.series.forEach((s: any, k: number) => {
    datasets.push({
      data: pts(s.lo), borderWidth: 0, borderColor: 'rgba(0,0,0,0)', pointRadius: 0,
      fill: false, order: 20, tension: 0,
    });
    datasets.push({
      data: pts(s.hi), borderWidth: 0, borderColor: 'rgba(0,0,0,0)', pointRadius: 0,
      backgroundColor: rgba(COLORS[k], FILL_ALPHAS[k]), fill: '-1', order: 20, tension: 0,
    });
  });
  // draw order: higher "order" is drawn first (underneath)
  const lineOrders = p.underPink ? [5, 4, 8, 7, 6] : [5, 4, 3, 2, 1];
  p.series.forEach((s: any, k: number) => {
    datasets.push({
      data: pts(s.mean), borderColor: COLORS[k], borderWidth: k === 0 ? 3.6 : 1.6,
      pointRadius: 0, fill: false, order: lineOrders[k], tension: 0, isLine: true,
      borderJoinStyle: 'round', borderCapStyle: 'butt',
    });
  });
  const rightPad = p.left + p.width - (p.left + p.yAxisW + 566.7);
  return {
    type: 'line',
    data: { datasets },
    plugins: [overlayPlugin],
    options: {
      responsive: false,
      animation: false,
      devicePixelRatio: 1,
      parsing: false,
      normalized: true,
      events: [],
      layout: { padding: { left: 0, top: PLOT_TOP_PAD, right: rightPad, bottom: 0 } },
      plugins: { legend: { display: false }, tooltip: { enabled: false }, title: { display: false } },
      scales: {
        x: {
          type: 'linear',
          min: toYear(X_MIN_DATE),
          max: toYear(X_MAX_DATE),
          afterBuildTicks: (scale: any) => {
            scale.ticks = X_TICK_LABELS.map((l) => ({ value: toYear(l) }));
          },
          afterFit: (scale: any) => {
            scale.height = CANVAS_H - PLOT_TOP_PAD - PLOT_H;
          },
          ticks: {
            autoSkip: false,
            minRotation: 30,
            maxRotation: 30,
            padding: 1,
            color: '#4d4d4d',
            font: { family: FONT, size: TICK_FONT },
            callback: (_v: any, i: number) => X_TICK_LABELS[i],
          },
          grid: {
            color: '#ebebeb', lineWidth: 2.2, drawTicks: true, tickLength: 5,
            tickColor: '#222222', tickWidth: 2,
          },
          border: { display: false },
          title: {
            display: true, text: 'Date', color: '#000000',
            font: { family: FONT, size: AXIS_TITLE_FONT }, padding: { top: 0, bottom: 12 },
          },
        },
        y: {
          type: 'linear',
          min: p.yMin,
          max: p.yMax,
          afterBuildTicks: (scale: any) => {
            scale.ticks = p.yTicks.map((v: number) => ({ value: v }));
          },
          afterFit: (scale: any) => {
            scale.width = p.yAxisW;
          },
          ticks: {
            padding: 4,
            color: '#4d4d4d',
            font: { family: FONT, size: TICK_FONT },
            callback: (v: any) => String(v),
          },
          grid: {
            color: '#ebebeb', lineWidth: 2.2, drawTicks: true, tickLength: 6,
            tickColor: '#222222', tickWidth: 2,
          },
          border: { display: false },
          title: {
            display: true, text: 'Monthly incidence', color: '#000000',
            font: { family: FONT, size: AXIS_TITLE_FONT }, padding: { top: 12.3, bottom: 0 },
          },
        },
      },
    },
  };
}

function Panel({ p }: { p: any }) {
  const ref = useRef<HTMLCanvasElement | null>(null);
  useEffect(() => {
    if (!ref.current) return;
    const chart = new Chart(ref.current, buildConfig(p) as any);
    return () => chart.destroy();
  }, [p]);
  return (
    <>
      <canvas
        ref={ref}
        width={p.width}
        height={CANVAS_H}
        style={{ position: 'absolute', left: p.left, top: p.top, width: p.width, height: CANVAS_H }}
      />
      <div
        style={{
          position: 'absolute', left: p.left + p.yAxisW + 566.7 / 2 - 200, top: p.top - 35,
          width: 400, textAlign: 'center', fontSize: 28, lineHeight: '28px', color: '#000',
        }}
      >
        {p.title}
      </div>
      <div
        style={{
          position: 'absolute', left: p.left - 30, top: p.top - 43, fontSize: 58,
          lineHeight: '58px', fontWeight: 'bold', color: '#1a1a1a',
        }}
      >
        {p.letter}
      </div>
    </>
  );
}

const SUB_STYLE = { fontSize: 16, verticalAlign: '-4px', lineHeight: '0' } as React.CSSProperties;

function MathLabel({ rhs }: { rhs: React.ReactNode }) {
  return (
    <span>
      <i>S</i>
      <span style={SUB_STYLE}>mig_flow</span>% = {rhs}
    </span>
  );
}

function Legend() {
  const keys = [231, 371, 547, 805, 1038];
  const labelsX = [266, 406, 581, 840, 1073];
  const labels: React.ReactNode[] = [
    SCENARIOS[0],
    SCENARIOS[1],
    SCENARIOS[2],
    <MathLabel rhs={<><i>S</i><span style={SUB_STYLE}>loc</span>%</>} />,
    <MathLabel rhs={<>5% (via vax)</>} />,
  ];
  const cy = 943;
  return (
    <>
      <div style={{ position: 'absolute', left: 103, top: cy - 16, fontSize: 28, lineHeight: '32px', color: '#000' }}>
        Scenario
      </div>
      {keys.map((x, k) => (
        <div
          key={'k' + k}
          style={{
            position: 'absolute', left: x, top: cy - 13, width: 18, height: 28,
            background: rgba(COLORS[k], 0.17),
          }}
        >
          <div
            style={{
              position: 'absolute', left: 1, right: 1, top: k === 0 ? 12 : 13, height: k === 0 ? 4 : 2,
              background: COLORS[k],
            }}
          />
        </div>
      ))}
      {labelsX.map((x, k) => (
        <div
          key={'l' + k}
          style={{ position: 'absolute', left: x, top: cy - 15, fontSize: 23, lineHeight: '30px', color: '#000', whiteSpace: 'nowrap' }}
        >
          {labels[k]}
        </div>
      ))}
    </>
  );
}

export default function App() {
  return (
    <div
      style={{
        position: 'absolute', left: 0, top: 0, width: 1417, height: 958, overflow: 'hidden',
        background: '#ffffff', fontFamily: FONT,
      }}
    >
      {PANELS.map((p) => (
        <Panel key={p.letter} p={p} />
      ))}
      <Legend />
    </div>
  );
}
